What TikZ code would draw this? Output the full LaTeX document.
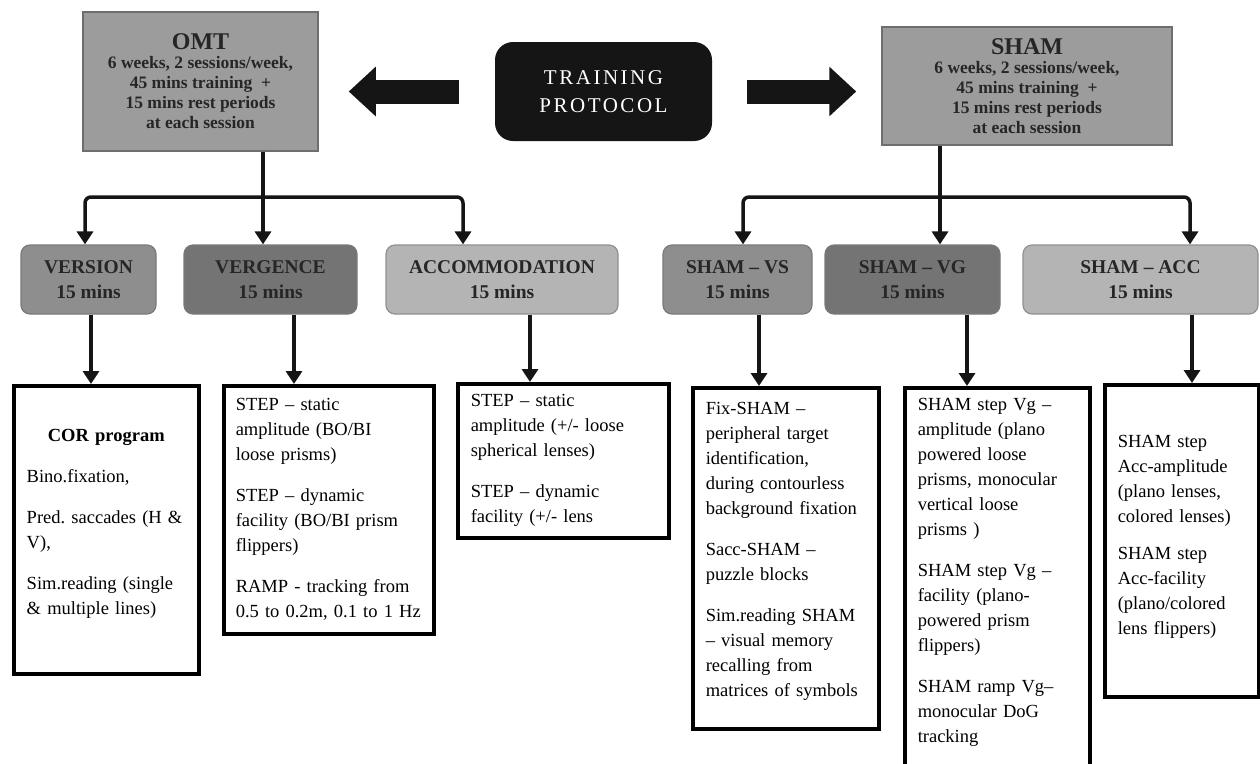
\documentclass[tikz,border=0pt]{standalone}
\usepackage{fontspec}
\setmainfont{Liberation Serif}
\newfontfamily\trainfont[LetterSpace=12]{Liberation Serif}
\newfontfamily\detailfont[WordSpace=0.8]{Liberation Serif}
\usetikzlibrary{arrows.meta}
\frenchspacing
\definecolor{topgray}{HTML}{9C9C9C}
\definecolor{topborder}{HTML}{6E6E6E}
\definecolor{vsgray}{HTML}{8E8E8E}
\definecolor{vggray}{HTML}{747474}
\definecolor{accgray}{HTML}{B4B4B4}
\definecolor{midborder}{HTML}{7A7A7A}
\definecolor{textdark}{HTML}{262626}
\definecolor{inkblack}{HTML}{151515}
\tikzset{
  topbox/.style={draw=topborder, line width=1.5pt, fill=topgray, text=textdark,
    font=\bfseries\fontsize{17.5}{20}\selectfont, align=center, inner sep=0pt},
  trainbox/.style={fill=inkblack, rounded corners=18pt, text=white,
    font=\trainfont\fontsize{21}{28}\selectfont, align=center, inner sep=0pt,
    minimum width=217pt, minimum height=99pt},
  midbox/.style={draw=midborder, line width=1.2pt, rounded corners=9pt, text=textdark,
    font=\bfseries\fontsize{19.5}{25}\selectfont, align=center, inner sep=0pt,
    minimum height=69pt},
  detailbox/.style={draw=black, line width=3.5pt, fill=white, anchor=north west,
    font=\detailfont\frenchspacing\fontsize{18.5}{25}\selectfont, align=left,
    inner xsep=13pt, inner ysep=6pt},
  bigarrow/.style={draw=inkblack, line width=24pt, -{Triangle[length=27pt,width=48pt]}},
  conn/.style={draw=inkblack, line width=3.5pt, -{Triangle[length=13pt,width=16pt]}},
  plainline/.style={draw=inkblack, line width=3.5pt},
}
\begin{document}
\begin{tikzpicture}[x=1pt,y=-1pt]
\clip (0,0) rectangle (1260,763);
\fill[white] (0,0) rectangle (1260,763);

% top row
\node[topbox, minimum width=235pt, minimum height=139pt] (omt) at (200.5,81.5)
  {{\fontsize{24}{26}\selectfont OMT}\\[-1pt]6 weeks, 2 sessions/week,\\45 mins training \ +\\15 mins rest periods\\at each session};
\node[topbox, minimum width=290pt, minimum height=118pt] (sham) at (1027,86)
  {{\fontsize{24}{26}\selectfont SHAM}\\[-1pt]6 weeks, 2 sessions/week,\\45 mins training \ +\\15 mins rest periods\\at each session};
\node[trainbox] (train) at (603.5,91.5) {TRAINING\\PROTOCOL};

\draw[bigarrow, shorten <=36pt, shorten >=30pt] (train.west) -- (train.west -| omt.east);
\draw[bigarrow, shorten <=35pt, shorten >=25pt] (train.east) -- (train.east -| sham.west);

% second row
\node[midbox, fill=vsgray, minimum width=135pt] (version) at (88.5,279.5) {VERSION\\15 mins};
\node[midbox, fill=vggray, minimum width=173pt] (vergence) at (270.5,279.5) {VERGENCE\\15 mins};
\node[midbox, fill=accgray, draw=accgray!80!black, minimum width=232pt] (accom) at (502,279.5) {ACCOMMODATION\\15 mins};
\node[midbox, fill=vsgray, minimum width=149pt] (shamvs) at (737.5,279.5) {SHAM – VS\\15 mins};
\node[midbox, fill=vggray, minimum width=175pt] (shamvg) at (912.5,279.5) {SHAM – VG\\15 mins};
\node[midbox, fill=accgray, draw=accgray!80!black, minimum width=235pt] (shamacc) at (1140.5,279.5) {SHAM – ACC\\15 mins};

% detail boxes
\node[detailbox, text width=159pt, minimum width=185pt, minimum height=288pt] (cor) at (12,384)
  {\makebox[159pt][c]{\bfseries COR program}\\[16pt]Bino.fixation,\\[16pt]Pred. saccades (H \&\\V),\\[16pt]Sim.reading (single\\\& multiple lines)\\[-9pt]\mbox{}};
\node[detailbox, text width=186pt, inner xsep=12pt, minimum width=210pt, minimum height=248pt] (verg) at (222,384)
  {STEP – static\\amplitude (BO/BI\\loose prisms)\\[16pt]STEP – dynamic\\facility (BO/BI prism\\flippers)\\[16pt]RAMP - tracking from\\\makebox[186pt][l]{0.5 to 0.2m, 0.1 to 1 Hz}};
\node[detailbox, text width=185pt, minimum width=211pt, minimum height=154pt] (accd) at (456,382)
  {STEP – static\\amplitude (+/- loose\\spherical lenses)\\[16pt]STEP – dynamic\\facility (+/- lens};
\node[detailbox, text width=160pt, minimum width=186pt, minimum height=341pt] (fix) at (691,386)
  {Fix-SHAM –\\peripheral target\\identification,\\during contourless\\background fixation\\[16pt]Sacc-SHAM –\\puzzle blocks\\[16pt]Sim.reading SHAM\\– visual memory\\recalling from\\matrices of symbols\\[-7pt]\mbox{}};
\node[detailbox, text width=159pt, minimum width=185pt, minimum height=400pt] (vg) at (903,386)
  {SHAM step Vg –\\amplitude (plano\\powered loose\\prisms, monocular\\vertical loose\\prisms )\\[16pt]SHAM step Vg –\\facility (plano-\\powered prism\\flippers)\\[16pt]SHAM ramp Vg–\\monocular DoG\\tracking\\[9pt]\mbox{}};
\node[detailbox, text width=128pt, minimum width=154pt, minimum height=312pt] (acc) at (1103,383)
  {SHAM step\\Acc-amplitude\\(plano lenses,\\colored lenses)\\[12pt]SHAM step\\Acc-facility\\(plano/colored\\lens flippers)\\[-13pt]\mbox{}};

% connector coordinates
\coordinate (omtJ) at (263,197);
\coordinate (shamJ) at (940,197);
\coordinate (xa1) at (85,0);
\coordinate (xa3) at (463,0);
\coordinate (xb1) at (743,0);
\coordinate (xb3) at (1190,0);
\coordinate (xd1) at (91,0);
\coordinate (xd2) at (294,0);
\coordinate (xd3) at (530,0);
\coordinate (xd4) at (759,0);
\coordinate (xd5) at (967,0);
\coordinate (xd6) at (1192,0);

% OMT branch
\draw[plainline] (omtJ |- omt.south) -- (omtJ);
\draw[conn, rounded corners=6pt] (omtJ) -| (xa1 |- version.north);
\draw[conn] (omtJ) -- (omtJ |- vergence.north);
\draw[conn, rounded corners=6pt] (omtJ) -| (xa3 |- accom.north);

% SHAM branch
\draw[plainline] (shamJ |- sham.south) -- (shamJ);
\draw[conn, rounded corners=6pt] (shamJ) -| (xb1 |- shamvs.north);
\draw[conn] (shamJ) -- (shamJ |- shamvg.north);
\draw[conn, rounded corners=6pt] (shamJ) -| (xb3 |- shamacc.north);

% down arrows
\draw[conn] (xd1 |- version.south) -- (xd1 |- cor.north);
\draw[conn] (xd2 |- vergence.south) -- (xd2 |- verg.north);
\draw[conn] (xd3 |- accom.south) -- (xd3 |- accd.north);
\draw[conn] (xd4 |- shamvs.south) -- (xd4 |- fix.north);
\draw[conn] (xd5 |- shamvg.south) -- (xd5 |- vg.north);
\draw[conn] (xd6 |- shamacc.south) -- (xd6 |- acc.north);
\end{tikzpicture}
\end{document}
